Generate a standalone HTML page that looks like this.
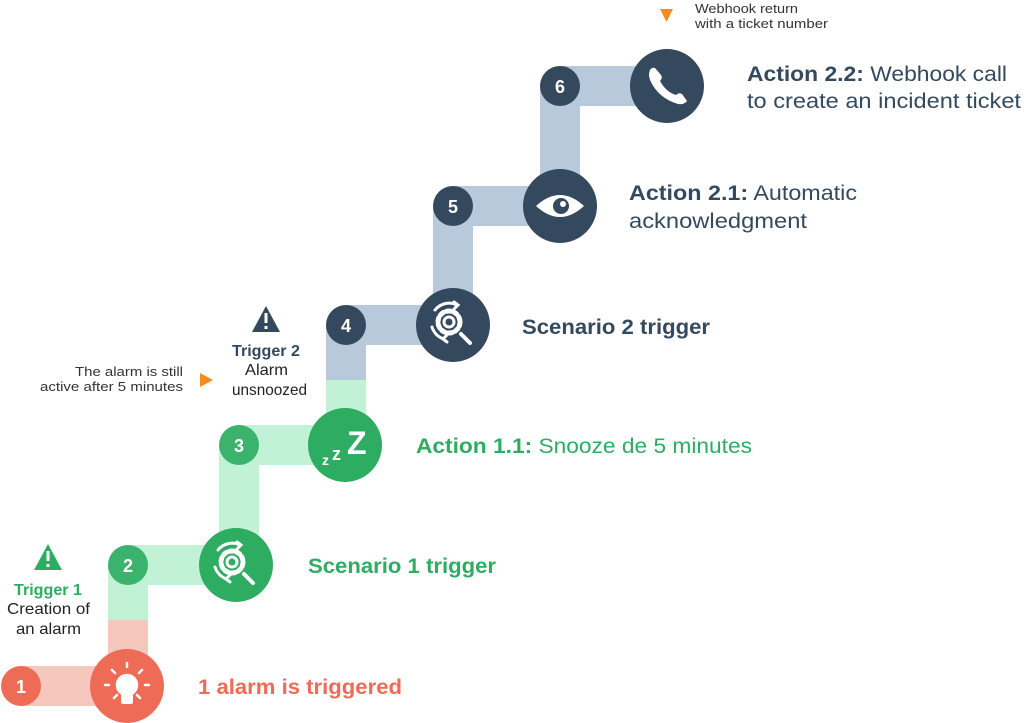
<!DOCTYPE html>
<html><head><meta charset="utf-8"><style>
html,body{margin:0;padding:0;background:#fff;}
svg{display:block;font-family:"Liberation Sans",sans-serif;}
</style></head><body>
<svg width="1024" height="723" viewBox="0 0 1024 723" xmlns="http://www.w3.org/2000/svg">
<defs>
<g id="gear" fill="none" stroke="#fff" stroke-width="3" stroke-linecap="round">
  <circle r="5"/>
  <circle r="11" stroke-dasharray="4 3" stroke-width="5"/>
  <path d="M-14,-12 A18,18 0 0 1 8,-17"/>
  <path d="M5,-20 L9,-17 L5,-13" />
  <path d="M-5,17 A18,18 0 0 1 -17,5"/>
  <path d="M-2,13 L-6,17 L-2,20"/>
  <path d="M12,12 L21,21" stroke-width="4"/>
</g>
</defs>
<rect x="21" y="666" width="106" height="40" fill="#f6c7bd"/>
<rect x="108" y="620" width="40" height="66" fill="#f6c7bd"/>
<rect x="108" y="565" width="40" height="55" fill="#c2f2d6"/>
<rect x="128" y="545" width="108" height="40" fill="#c2f2d6"/>
<rect x="219" y="445" width="40" height="120" fill="#c2f2d6"/>
<rect x="239" y="425" width="106" height="40" fill="#c2f2d6"/>
<rect x="326" y="380" width="40" height="65" fill="#c2f2d6"/>
<rect x="326" y="325" width="40" height="55" fill="#b8c9dc"/>
<rect x="346" y="305" width="107" height="40" fill="#b8c9dc"/>
<rect x="433" y="206" width="40" height="119" fill="#b8c9dc"/>
<rect x="453" y="186" width="107" height="40" fill="#b8c9dc"/>
<rect x="540" y="86" width="40" height="120" fill="#b8c9dc"/>
<rect x="560" y="66" width="107" height="40" fill="#b8c9dc"/>

<g font-weight="bold" font-size="18" fill="#fff" text-anchor="middle">
<circle cx="21" cy="686" r="20" fill="#ee6c55"/><text x="21" y="693">1</text>
<circle cx="128" cy="565" r="20" fill="#3bb36c"/><text x="128" y="572">2</text>
<circle cx="239" cy="445" r="20" fill="#3bb36c"/><text x="239" y="452">3</text>
<circle cx="346" cy="325" r="20" fill="#34495e"/><text x="346" y="332">4</text>
<circle cx="453" cy="206" r="20" fill="#34495e"/><text x="453" y="213">5</text>
<circle cx="560" cy="86" r="20" fill="#34495e"/><text x="560" y="93">6</text>
</g>

<circle cx="127" cy="686" r="37" fill="#ee6c55"/>
<g stroke="#fff" stroke-width="2.5" stroke-linecap="round" fill="none">
  <circle cx="127" cy="685" r="10" fill="#fff"/>
  <path d="M127,663v4M112,670l3,3M142,670l-3,3M105,685h4M149,685h-4M114,698l3,-3M140,698l-3,-3"/>
</g>
<rect x="121" y="694" width="12" height="10" rx="2" fill="#fff"/>

<circle cx="236" cy="565" r="37" fill="#2ead62"/>
<use href="#gear" x="232" y="562"/>
<circle cx="345" cy="445" r="37" fill="#2ead62"/>
<text x="322" y="465" font-size="14" font-weight="bold" fill="#fff">z</text>
<text x="332" y="460" font-size="18" font-weight="bold" fill="#fff">z</text>
<text x="347" y="454" font-size="32" font-weight="bold" fill="#fff">Z</text>
<circle cx="453" cy="325" r="37" fill="#34495e"/>
<use href="#gear" x="449" y="322"/>
<circle cx="560" cy="206" r="37" fill="#34495e"/>
<path d="M536,206 Q560,184 584,206 Q560,228 536,206Z" fill="#fff"/>
<circle cx="561" cy="206" r="8" fill="#34495e"/>
<circle cx="563" cy="204" r="3" fill="#fff"/>
<circle cx="667" cy="86" r="37" fill="#34495e"/>
<path d="M650,70 Q648,74 650,80 Q658,98 678,104 Q684,105 687,101 L682,94 Q679,92 676,95 Q666,92 660,81 Q663,78 661,75 L655,68 Q652,67 650,70Z" fill="#fff"/>

<text x="198" y="694" font-size="21" font-weight="bold" fill="#ee6c55" textLength="204" lengthAdjust="spacingAndGlyphs">1 alarm is triggered</text>
<text x="308" y="573" font-size="21" font-weight="bold" fill="#2ead62" textLength="188" lengthAdjust="spacingAndGlyphs">Scenario 1 trigger</text>
<text x="416" y="453" font-size="21" fill="#2ead62" textLength="336" lengthAdjust="spacingAndGlyphs"><tspan font-weight="bold">Action 1.1:</tspan> Snooze de 5 minutes</text>
<text x="522" y="334" font-size="21" font-weight="bold" fill="#34495e" textLength="188" lengthAdjust="spacingAndGlyphs">Scenario 2 trigger</text>
<text x="629" y="200" font-size="21" fill="#34495e" textLength="228" lengthAdjust="spacingAndGlyphs"><tspan font-weight="bold">Action 2.1:</tspan> Automatic</text>
<text x="629" y="228" font-size="21" fill="#34495e" textLength="178" lengthAdjust="spacingAndGlyphs">acknowledgment</text>
<text x="747" y="81" font-size="21" fill="#34495e" textLength="260" lengthAdjust="spacingAndGlyphs"><tspan font-weight="bold">Action 2.2:</tspan> Webhook call</text>
<text x="747" y="108" font-size="21" fill="#34495e" textLength="274" lengthAdjust="spacingAndGlyphs">to create an incident ticket</text>

<path d="M48,544 L62,570 L34,570Z" fill="#2ead62"/>
<rect x="46.5" y="551" width="3" height="10" fill="#fff"/><rect x="46.5" y="564" width="3" height="3" fill="#fff"/>
<g font-size="16">
<text x="14" y="595" font-weight="bold" fill="#2ead62" textLength="68" lengthAdjust="spacingAndGlyphs">Trigger 1</text>
<text x="7" y="614" fill="#222" textLength="83" lengthAdjust="spacingAndGlyphs">Creation of</text>
<text x="16" y="634" fill="#222" textLength="65" lengthAdjust="spacingAndGlyphs">an alarm</text>
</g>
<path d="M266,306 L280,332 L252,332Z" fill="#34495e"/>
<rect x="264.5" y="313" width="3" height="10" fill="#fff"/><rect x="264.5" y="326" width="3" height="3" fill="#fff"/>
<g font-size="16">
<text x="232" y="356" font-weight="bold" fill="#34495e" textLength="68" lengthAdjust="spacingAndGlyphs">Trigger 2</text>
<text x="245" y="375" fill="#222" textLength="43" lengthAdjust="spacingAndGlyphs">Alarm</text>
<text x="232" y="395" fill="#222" textLength="75" lengthAdjust="spacingAndGlyphs">unsnoozed</text>
</g>
<g font-size="13" fill="#333">
<text x="75" y="376" textLength="108" lengthAdjust="spacingAndGlyphs">The alarm is still</text>
<text x="40" y="391" textLength="143" lengthAdjust="spacingAndGlyphs">active after 5 minutes</text>
</g>
<path d="M200,373 L213,380 L200,387Z" fill="#f68b1f"/>
<path d="M660,9 L673,9 L666.5,22Z" fill="#f68b1f"/>
<g font-size="13" fill="#333">
<text x="695" y="13" textLength="103" lengthAdjust="spacingAndGlyphs">Webhook return</text>
<text x="695" y="28" textLength="133" lengthAdjust="spacingAndGlyphs">with a ticket number</text>
</g>
</svg>
</body></html>
